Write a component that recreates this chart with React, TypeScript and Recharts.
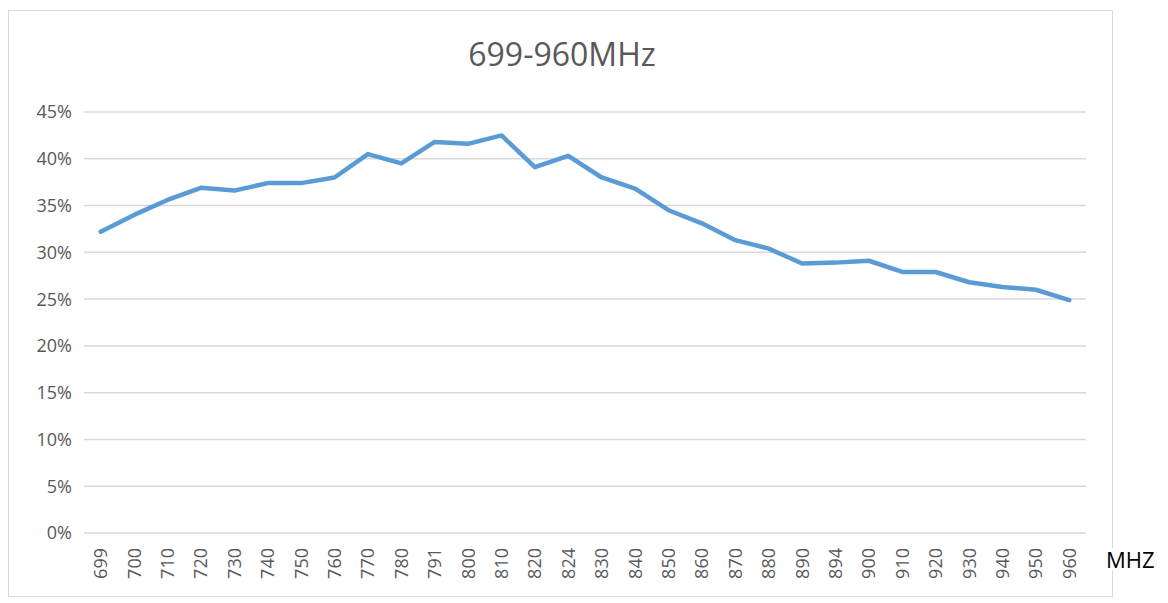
import React from 'react';
import { LineChart, Line, XAxis, YAxis, CartesianGrid } from 'recharts';

const categories = ['699', '700', '710', '720', '730', '740', '750', '760', '770', '780', '791', '800', '810', '820', '824', '830', '840', '850', '860', '870', '880', '890', '894', '900', '910', '920', '930', '940', '950', '960'];
const efficiency = [32.2, 34.0, 35.6, 36.9, 36.6, 37.4, 37.4, 38.0, 40.5, 39.5, 41.8, 41.6, 42.5, 39.1, 40.3, 38.0, 36.8, 34.5, 33.1, 31.3, 30.4, 28.8, 28.9, 29.1, 27.9, 27.9, 26.8, 26.3, 26.0, 24.9];
const yTicks = [0, 5, 10, 15, 20, 25, 30, 35, 40, 45];
const title = '699-960MHz';
const xUnit = 'MHZ';

const data = categories.map((c, i) => ({ freq: c, value: efficiency[i] }));

const FONT = '"Open Sans", sans-serif';

const XTick = (props: any) => {
  const { x, y, payload } = props;
  return (
    <text
      x={x}
      y={y}
      transform={`rotate(-90, ${x}, ${y})`}
      textAnchor="end"
      dy="0.36em"
      fill="#595959"
      fontSize={18}
      fontFamily={FONT}
    >
      {payload.value}
    </text>
  );
};

export default function App() {
  return (
    <div style={{ position: 'absolute', left: 0, top: 0, width: 1168, height: 603, background: '#fff', overflow: 'hidden' }}>
      <div style={{ position: 'absolute', left: 8, top: 10, width: 1105, height: 587, border: '1.5px solid #d9d9d9', boxSizing: 'border-box' }} />
      <div style={{ position: 'absolute', left: 9, top: 37.6, width: 1106, textAlign: 'center', fontFamily: FONT, fontSize: 32, lineHeight: '32px', color: '#595959', whiteSpace: 'nowrap' }}>
        {title}
      </div>
      <div style={{ position: 'absolute', left: 0, top: 0 }}>
        <LineChart width={1168} height={603} data={data} margin={{ top: 112, right: 82, bottom: 20, left: 14 }}>
          <CartesianGrid vertical={false} stroke="#d9d9d9" strokeWidth={1.5} />
          <XAxis
            dataKey="freq"
            height={50}
            interval={0}
            padding={{ left: 16.7, right: 16.7 }}
            axisLine={false}
            tickLine={false}
            tickSize={0}
            tickMargin={15}
            tick={<XTick />}
          />
          <YAxis
            width={70}
            domain={[0, 45]}
            ticks={yTicks}
            interval={0}
            axisLine={false}
            tickLine={false}
            tickSize={0}
            tickMargin={12}
            tickFormatter={(v: number) => `${v}%`}
            tick={{ fill: '#595959', fontSize: 18, fontFamily: FONT }}
          />
          <Line
            type="linear"
            dataKey="value"
            stroke="#5B9BD5"
            strokeWidth={4.5}
            strokeLinejoin="round"
            strokeLinecap="round"
            dot={false}
            activeDot={false}
            isAnimationActive={false}
          />
        </LineChart>
      </div>
      <div style={{ position: 'absolute', left: 1105, top: 547.5, fontFamily: FONT, fontSize: 22, lineHeight: '22px', color: '#000', background: '#fff', padding: '0 1px', whiteSpace: 'nowrap' }}>
        {xUnit}
      </div>
    </div>
  );
}
